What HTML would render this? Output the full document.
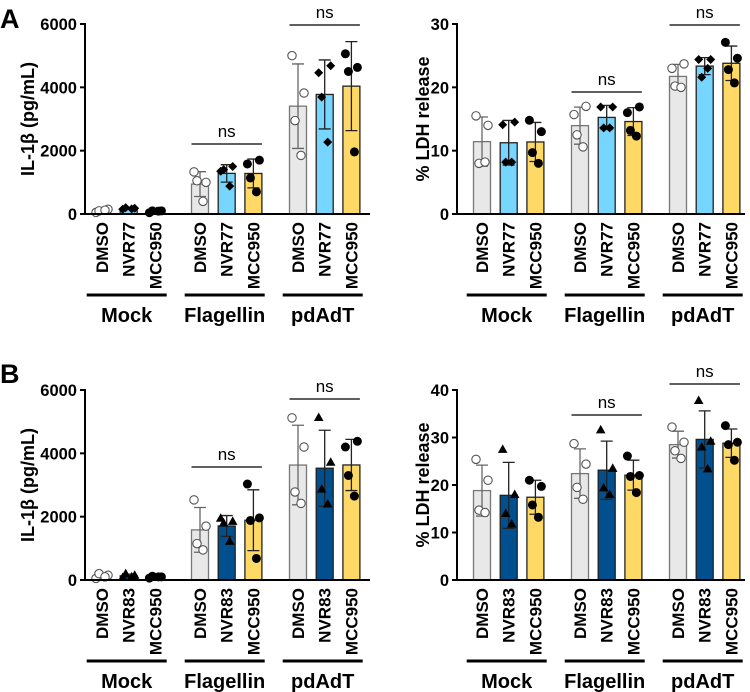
<!DOCTYPE html>
<html><head><meta charset="utf-8"><style>
html,body{margin:0;padding:0;background:#fff;}
svg{display:block;font-family:"Liberation Sans",sans-serif;}
</style></head><body>
<svg id="fig" width="750" height="692" viewBox="0 0 750 692" xmlns="http://www.w3.org/2000/svg">
<text x="0" y="28" font-size="27" font-weight="bold">A</text>
<text x="0" y="383" font-size="27" font-weight="bold">B</text>
</svg>
<script>
const groups = ["Mock","Flagellin","pdAdT"];
const treatmentsA = ["DMSO","NVR77","MCC950"];
const treatmentsB = ["DMSO","NVR83","MCC950"];
const ilTicks = [0,2000,4000,6000];
const ldhTicksA = [0,10,20,30];
const ldhTicksB = [0,10,20,30,40];
const ilA = [[50,150,100,120],[150,180,200,160],[40,100,100,90],
  [1330,1000,1050,400],[1350,1500,1400,880],[1580,1700,1140,700],
  [5000,3820,2950,1850],[4460,4680,3690,2270],[5060,4630,4500,1960]];
const ldhA = [[15.5,14,8,8.2],[14.1,14.5,8.2,8.2],[14.8,13,9.7,8],
  [15.7,17,12.5,10.6],[16.9,16.9,13.6,13.6],[16,16.9,13.2,12.3],
  [23,23.7,20.2,20],[24.4,24.4,21.6,23],[27.1,24.6,22.8,20.7]];
const ilB = [[50,150,200,100],[80,150,200,100],[60,100,120,100],
  [2530,1700,1150,950],[1950,1850,1800,1220],[3030,1960,1880,680],
  [5120,4200,2780,2420],[5130,3720,2870,2400],[4200,4380,3300,2650]];
const ldhB = [[25.4,21,14.7,14.2],[27.5,18,14,11.8],[21,19.7,15.8,13.2],
  [28.7,24.4,19.5,17],[31.6,23.5,19.4,18],[26.1,22,21.8,18.4],
  [32.2,29,27.2,25.6],[37.8,29.2,28,23.4],[32.5,29,28.5,25.2]];
const nsGroups = [1,2];

const NS="http://www.w3.org/2000/svg";
const svg=document.getElementById('fig');
function mk(tag,attrs,parent){const e=document.createElementNS(NS,tag);for(const k in attrs)e.setAttribute(k,attrs[k]);(parent||svg).appendChild(e);return e;}
function mean(a){return a.reduce((s,v)=>s+v,0)/a.length;}
function sd(a){const m=mean(a);return Math.sqrt(a.reduce((s,v)=>s+(v-m)*(v-m),0)/(a.length-1));}

function panel(cfg){
  const g=mk('g',{});
  
  
  const max=cfg.ticks[cfg.ticks.length-1];
  const y=v=>cfg.y0-(v/max)*(cfg.y0-cfg.yTop);
  const bx=i=>cfg.ax+cfg.off+Math.floor(i/3)*98+(i%3)*26.7;
  const colors=["#e8e8e8",cfg.inhColor,"#ffd966"];
  const jit=[-6,6,-3,3];
  cfg.data.forEach((pts,i)=>{
    const t=i%3, m=mean(pts), s=sd(pts), cx=bx(i);
    const r=mk('rect',{x:cx-8.5,y:y(m),width:17,height:cfg.y0-y(m),fill:colors[t],stroke:t==0?'#777':'#222','stroke-width':1.3},g);
    
    
    const ec=t==0?'#666':'#222';
    const eb=mk('path',{d:`M${cx},${y(m+s)}V${y(m-s)}M${cx-6},${y(m+s)}H${cx+6}M${cx-6},${y(m-s)}H${cx+6}`,stroke:ec,'stroke-width':1.3,fill:'none'},g);
    
    
    pts.forEach((v,k)=>{
      const px=cx+jit[k], py=y(v);
      let p;
      if(t==0) p=mk('circle',{cx:px,cy:py,r:4.2,fill:'#fff',stroke:'#555','stroke-width':1.1},g);
      else if(t==2) p=mk('circle',{cx:px,cy:py,r:4.5,fill:'#000'},g);
      else if(cfg.marker=='diamond') p=mk('path',{d:`M${px},${py-4.5}L${px+4.5},${py}L${px},${py+4.5}L${px-4.5},${py}Z`,fill:'#000'},g);
      else p=mk('path',{d:`M${px},${py-5}L${px+4.8},${py+3.5}L${px-4.8},${py+3.5}Z`,fill:'#000'},g);
      
      
    });
  });
  const ya=mk('line',{x1:cfg.ax,y1:cfg.yTop-1,x2:cfg.ax,y2:cfg.y0+1,stroke:'#000','stroke-width':2},g);
  
  
  const xa=mk('line',{x1:cfg.ax-5,y1:cfg.y0,x2:cfg.ax+cfg.len,y2:cfg.y0,stroke:'#000','stroke-width':2},g);
  
  
  cfg.ticks.forEach(tv=>{
    mk('line',{x1:cfg.ax-5,y1:y(tv),x2:cfg.ax,y2:y(tv),stroke:'#000','stroke-width':2},g);
    const tl=mk('text',{x:cfg.ax-8,y:y(tv)+6,'text-anchor':'end','font-size':16.5,'font-weight':'bold'},g);
    tl.textContent=tv;
    
    
  });
  const yt=mk('text',{x:0,y:0,'text-anchor':'middle','font-size':18,'font-weight':'bold',transform:`translate(${cfg.titleX},${(cfg.yTop+cfg.y0)/2}) rotate(-90)`},g);
  yt.textContent=cfg.title;
  
  
  cfg.data.forEach((pts,i)=>{
    const cx=bx(i);
    const ct=mk('text',{x:0,y:0,'text-anchor':'end','font-size':17,'font-weight':'bold',transform:`translate(${cx+6},${cfg.y0+8}) rotate(-90)`},g);
    ct.textContent=cfg.tr[i%3];
    
    
  });
  groups.forEach((gn,j)=>{
    const c=bx(j*3+1);
    const gl=mk('line',{x1:c-42,y1:cfg.y0+81,x2:c+38,y2:cfg.y0+81,stroke:'#000','stroke-width':3},g);
    
    
    const gt=mk('text',{x:c-2,y:cfg.y0+108,'text-anchor':'middle','font-size':20,'font-weight':'bold'},g);
    gt.textContent=gn;
    
    
  });
  nsGroups.forEach((j,k)=>{
    const l=bx(j*3)-8.5, r=bx(j*3+2)+8.5, ly=cfg.nsY[k];
    const nl=mk('line',{x1:l,y1:ly,x2:r,y2:ly,stroke:'#000','stroke-width':1.2},g);
    
    
    const nt=mk('text',{x:(l+r)/2,y:ly-7,'text-anchor':'middle','font-size':17},g);
    nt.textContent='ns';
    
    
  });
}
panel({name:'chart-a-il1b',data:ilA,tr:treatmentsA,ticks:ilTicks,ax:85,off:17,len:285,yTop:24,y0:214,inhColor:'#76d6ff',marker:'diamond',title:'IL-1β (pg/mL)',titleX:34,nsY:[144,25]});
panel({name:'chart-a-ldh',data:ldhA,tr:treatmentsA,ticks:ldhTicksA,ax:457,off:25,len:288,yTop:24,y0:214,inhColor:'#76d6ff',marker:'diamond',title:'% LDH release',titleX:429,nsY:[92,25]});
panel({name:'chart-b-il1b',data:ilB,tr:treatmentsB,ticks:ilTicks,ax:85,off:17,len:285,yTop:390,y0:580,inhColor:'#00508f',marker:'triangle',title:'IL-1β (pg/mL)',titleX:34,nsY:[467,399]});
panel({name:'chart-b-ldh',data:ldhB,tr:treatmentsB,ticks:ldhTicksB,ax:457,off:25,len:288,yTop:390,y0:580,inhColor:'#00508f',marker:'triangle',title:'% LDH release',titleX:429,nsY:[415,384]});
</script>
</body></html>
